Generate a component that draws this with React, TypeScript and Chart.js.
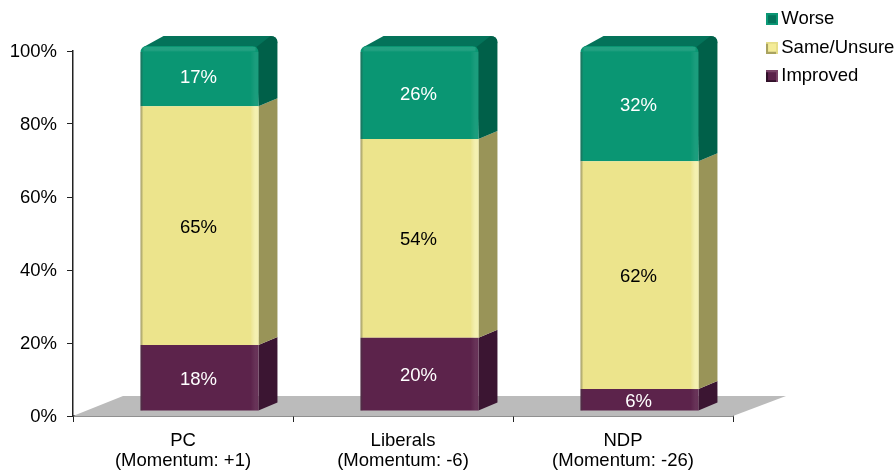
import React, { useEffect, useRef } from "react";
import { Chart, registerables } from "chart.js";

Chart.register(...registerables);

const categories = [
  ["PC", "(Momentum: +1)"],
  ["Liberals", "(Momentum: -6)"],
  ["NDP", "(Momentum: -26)"],
];
const improved = [18.1, 20.1, 6.0];
const sameUnsure = [65.4, 54.4, 62.4];
const worse = [16.5, 25.5, 31.6];
const yTicks = [0, 20, 40, 60, 80, 100];
const seriesNames = ["Improved", "Same/Unsure", "Worse"];

const FONT = "'Liberation Sans', Arial, sans-serif";
const FONT_SIZE = 18.5;
const FRONT_DX = 16.5;
const FRONT_DY = -5;
const SIDE_DX = 19;
const SIDE_DY = -8;

const palette = [
  { front: "#5C234B", side: "#3B1532", top: "#4A1C3D", hi: "rgba(255,255,255,0.07)", label: "#FFFFFF", edge: "#2F1028", box: "#5C234B", boxHi: "#7A4468" },
  { front: "#ECE48C", side: "#999458", top: "#C5BF75", hi: "rgba(255,255,220,0.45)", label: "#000000", edge: "#A9A360", box: "#F4EC98", boxHi: "#E6DE8A" },
  { front: "#0A9673", side: "#006049", top: "#04735A", hi: "rgba(255,255,255,0.07)", label: "#FFFFFF", edge: "#0C9A78", box: "#04735A", boxHi: "#0A9673" },
];

function makeLegendSwatch(i: number) {
  const c = palette[i];
  const cv = document.createElement("canvas");
  cv.width = 12;
  cv.height = 12;
  const g = cv.getContext("2d") as CanvasRenderingContext2D;
  g.fillStyle = c.edge;
  g.fillRect(0, 0, 12, 12);
  g.fillStyle = c.boxHi;
  g.fillRect(0, 0, 12, 2);
  g.fillRect(10, 0, 2, 12);
  g.fillStyle = c.box;
  g.fillRect(2, 2, 8, 8);
  return cv;
}

const floorPlugin = {
  id: "floor3d",
  beforeDatasetsDraw(chart: any) {
    const { ctx, chartArea: a } = chart;
    ctx.save();
    ctx.fillStyle = "#BBBBBB";
    ctx.beginPath();
    ctx.moveTo(a.left, a.bottom);
    ctx.lineTo(a.left + 50, a.bottom - 20);
    ctx.lineTo(a.right + 53, a.bottom - 20);
    ctx.lineTo(a.right, a.bottom);
    ctx.closePath();
    ctx.fill();
    ctx.restore();

    // side and top faces, behind the front faces
    ctx.save();
    ctx.translate(FRONT_DX, FRONT_DY);
    const last = chart.data.datasets.length - 1;
    chart.data.datasets.forEach((_: any, di: number) => {
      const c = palette[di];
      chart.getDatasetMeta(di).data.forEach((bar: any) => {
        const r = bar.x + bar.width / 2;
        const l = bar.x - bar.width / 2;
        const rad = 7;
        const topY = bar.y + SIDE_DY - 2;
        if (di !== last) {
          ctx.fillStyle = c.side;
          ctx.beginPath();
          ctx.moveTo(r, bar.y);
          ctx.lineTo(r + SIDE_DX, bar.y + SIDE_DY);
          ctx.lineTo(r + SIDE_DX, bar.base + SIDE_DY);
          ctx.lineTo(r, bar.base);
          ctx.closePath();
          ctx.fill();
        } else {
          ctx.fillStyle = c.top;
          ctx.beginPath();
          ctx.moveTo(l, bar.y + 5);
          ctx.lineTo(l + 3, bar.y + 1);
          ctx.lineTo(l + SIDE_DX + 4, topY);
          ctx.lineTo(r + SIDE_DX - rad, topY);
          ctx.quadraticCurveTo(r + SIDE_DX, topY, r + SIDE_DX, topY + rad);
          ctx.lineTo(r, bar.y + 6);
          ctx.closePath();
          ctx.fill();
          ctx.fillStyle = c.side;
          ctx.beginPath();
          ctx.moveTo(r - 2, bar.y + 1);
          ctx.lineTo(r + SIDE_DX - rad, topY);
          ctx.quadraticCurveTo(r + SIDE_DX, topY, r + SIDE_DX, topY + rad);
          ctx.lineTo(r + SIDE_DX, bar.base + SIDE_DY);
          ctx.lineTo(r, bar.base);
          ctx.closePath();
          ctx.fill();
        }
      });
    });
    ctx.restore();

    // every front face is shifted onto the 3-D front plane
    ctx.save();
    ctx.translate(FRONT_DX, FRONT_DY);
  },
  afterDatasetsDraw(chart: any) {
    const { ctx } = chart;
    chart.data.datasets.forEach((ds: any, di: number) => {
      const c = palette[di];
      chart.getDatasetMeta(di).data.forEach((bar: any, i: number) => {
        const r = bar.x + bar.width / 2;
        const l = bar.x - bar.width / 2;
        const isTop = di === chart.data.datasets.length - 1;
        const y0 = bar.y + (isTop ? 6 : 0);
        const h = bar.base - y0;
        // bevel: soft highlight down the right edge and shade on the left
        const gr = ctx.createLinearGradient(r - 8, 0, r, 0);
        gr.addColorStop(0, "rgba(255,255,255,0)");
        gr.addColorStop(0.6, c.hi);
        gr.addColorStop(1, c.hi);
        ctx.fillStyle = gr;
        ctx.fillRect(r - 8, y0, 8, h);
        const gl = ctx.createLinearGradient(l, 0, l + 3, 0);
        gl.addColorStop(0, "rgba(60,60,60,0.45)");
        gl.addColorStop(1, "rgba(60,60,60,0)");
        ctx.fillStyle = gl;
        ctx.fillRect(l, y0, 3, h);
        if (isTop) {
          const gt = ctx.createLinearGradient(0, bar.y, 0, bar.y + 6);
          gt.addColorStop(0, "rgba(255,255,255,0.10)");
          gt.addColorStop(0.7, "rgba(255,255,255,0.10)");
          gt.addColorStop(1, "rgba(255,255,255,0)");
          ctx.fillStyle = gt;
          ctx.fillRect(l + 3, bar.y + 1, bar.width - 6, 6);
        }
        // value label
        ctx.fillStyle = c.label;
        ctx.font = `${FONT_SIZE}px ${FONT}`;
        ctx.textAlign = "center";
        ctx.textBaseline = "middle";
        ctx.fillText(`${Math.round(ds.data[i])}%`, bar.x - 1, (bar.y + bar.base) / 2 + 2);
      });
    });
    ctx.restore();
  },
};

const layoutPlugin = {
  id: "legendPlace",
  afterLayout(chart: any) {
    const lg = chart.legend;
    lg.left = 762;
    lg.top = 0;
    lg.right = 895;
    lg.bottom = 100;
    lg.width = lg.right - lg.left;
    lg.height = lg.bottom - lg.top;
  },
};

export default function App() {
  const ref = useRef<HTMLCanvasElement>(null);
  useEffect(() => {
    document.body.style.margin = "0";
    const series = [improved, sameUnsure, worse];
    const swatches = palette.map((_, i) => makeLegendSwatch(i));
    const chart = new Chart(ref.current as HTMLCanvasElement, {
      type: "bar",
      data: {
        labels: categories as any,
        datasets: series.map((data, i) => ({
          label: seriesNames[i],
          data,
          backgroundColor: palette[i].front,
          borderWidth: 0,
          borderRadius: i === 2 ? { topLeft: 6, topRight: 6, bottomLeft: 0, bottomRight: 0 } : 0,
          borderSkipped: false,
          barPercentage: 0.536,
          categoryPercentage: 1,
        })),
      },
      plugins: [floorPlugin, layoutPlugin],
      options: {
        responsive: false,
        animation: false,
        layout: { padding: { top: 51, right: 162, left: 0, bottom: 0 } },
        plugins: {
          tooltip: { enabled: false },
          legend: {
            position: "chartArea" as any,
            align: "start",
            labels: {
              usePointStyle: true,
              pointStyleWidth: 0.01,
              boxWidth: 12,
              boxHeight: 12,
              padding: 10,
              color: "#000",
              font: { family: FONT, size: FONT_SIZE },
              generateLabels: () =>
                [2, 1, 0].map((i) => ({
                  text: seriesNames[i],
                  fillStyle: palette[i].box,
                  strokeStyle: palette[i].edge,
                  lineWidth: 0,
                  pointStyle: swatches[i],
                  datasetIndex: i,
                  fontColor: "#000",
                })),
            },
          },
        },
        scales: {
          x: {
            stacked: true,
            afterFit(s: any) {
              s.height = 56;
            },
            border: { color: "#222", width: 1.5 },
            grid: { drawOnChartArea: false, drawTicks: true, tickLength: 6, tickColor: "#222", offset: true },
            ticks: {
              color: "#000",
              font: { family: FONT, size: FONT_SIZE, lineHeight: 1.09 },
              padding: 9,
              maxRotation: 0,
              autoSkip: false,
            },
          },
          y: {
            stacked: true,
            min: yTicks[0],
            max: yTicks[yTicks.length - 1],
            afterFit(s: any) {
              s.width = 73;
            },
            afterBuildTicks(s: any) {
              s.ticks = yTicks.map((value) => ({ value }));
            },
            border: { color: "#222", width: 1.5 },
            grid: { drawOnChartArea: false, drawTicks: true, tickLength: 6, tickColor: "#222" },
            ticks: {
              color: "#000",
              font: { family: FONT, size: FONT_SIZE },
              padding: 10,
              labelOffset: 1,
              callback: (v: any) => `${v}%`,
            },
          },
        },
      },
    } as any);
    return () => chart.destroy();
  }, []);
  return (
    <div style={{ position: "absolute", left: 0, top: 0, width: 895, height: 472 }}>
      <canvas ref={ref} width={895} height={472} style={{ display: "block" }} />
    </div>
  );
}
